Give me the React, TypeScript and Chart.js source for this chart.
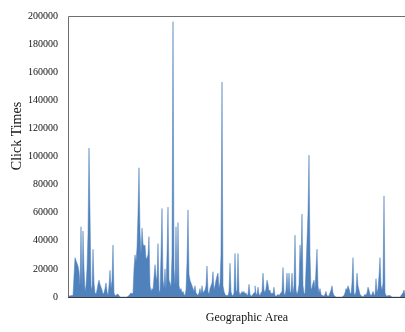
import React, { useEffect, useRef } from "react";
import { Chart, registerables } from "chart.js";

Chart.register(...registerables);

const clickTimes: number[] = [
  1000, 1000, 500, 1000, 1000, 1000, 15000, 28000, 26000, 24000,
  22000, 18000, 8000, 50000, 6000, 47000, 20000, 4000, 8000, 20000,
  45000, 106000, 60000, 8000, 5000, 34000, 10000, 3000, 2000, 5000,
  9000, 12000, 9000, 7000, 5000, 2000, 3000, 6000, 10000, 4000,
  1000, 8000, 19000, 6000, 12000, 37000, 3000, 1000, 1000, 2000,
  2000, 1000, 0, 0, 0, 0, 0, 0, 0, 0,
  500, 1000, 2000, 3000, 2000, 3000, 20000, 30000, 25000, 35000,
  60000, 92000, 47000, 30000, 49000, 38000, 36000, 37000, 27000, 28000,
  30000, 43000, 8000, 4000, 6000, 5000, 14000, 23000, 15000, 12000,
  38000, 5000, 3000, 30000, 63000, 12000, 6000, 20000, 5000, 30000,
  64000, 12000, 10000, 7000, 30000, 196000, 20000, 8000, 50000, 7000,
  53000, 8000, 5000, 6000, 3000, 4000, 2000, 1000, 5000, 25000,
  62000, 16000, 12000, 10000, 8000, 6000, 4000, 8000, 3000, 2000,
  1000, 3000, 6000, 2000, 8000, 3000, 4000, 5000, 8000, 22000,
  4000, 2000, 6000, 8000, 10000, 18000, 5000, 8000, 12000, 15000,
  17000, 6000, 10000, 30000, 153000, 8000, 4000, 2000, 1000, 1000,
  1000, 4000, 24000, 4000, 1000, 1000, 3000, 31000, 5000, 3000,
  31000, 4000, 1000, 3000, 4000, 3000, 4000, 2000, 3000, 1000,
  2000, 9000, 2000, 500, 1000, 2000, 3000, 8000, 2000, 2000,
  7000, 2000, 1000, 3000, 4000, 17000, 5000, 3000, 6000, 12000,
  9000, 4000, 5000, 2000, 3000, 2000, 7000, 1000, 500, 1000,
  2000, 1000, 2000, 3000, 4000, 21000, 3000, 1000, 5000, 17000,
  3000, 17000, 3000, 4000, 17000, 2000, 8000, 44000, 5000, 2000,
  4000, 9000, 37000, 25000, 59000, 8000, 3000, 2000, 20000, 40000,
  60000, 101000, 30000, 5000, 7000, 10000, 12000, 6000, 20000, 34000,
  8000, 3000, 6000, 2000, 1000, 1000, 500, 2000, 4000, 1000,
  500, 1000, 3000, 5000, 8000, 3000, 1000, 500, 0, 0,
  0, 0, 0, 0, 0, 500, 1000, 3000, 6000, 5000,
  8000, 6000, 3000, 2000, 10000, 28000, 3000, 1000, 4000, 17000,
  8000, 5000, 2000, 1000, 500, 0, 1000, 2000, 1000, 3000,
  7000, 5000, 2000, 1000, 2000, 4000, 2000, 1000, 13000, 3000,
  6000, 15000, 28000, 8000, 5000, 10000, 72000, 3000, 1000, 500,
  1000, 1000, 1000, 500, 0, 0, 0, 0, 0, 0,
  0, 0, 0, 1000, 2000, 3000, 5000, 2000,
];

const areaLabels: string[] = clickTimes.map((_, i) => `Area ${i + 1}`);
const yTickValues: number[] = [0, 20000, 40000, 60000, 80000, 100000, 120000, 140000, 160000, 180000, 200000];
const yTitle = "Click Times";
const xTitle = "Geographic Area";

const framePlugin = {
  id: "frameAndTitles",
  afterDraw(chart: any) {
    const { ctx, chartArea } = chart;
    const { left, right, top, bottom } = chartArea;
    ctx.save();
    ctx.lineWidth = 1;
    ctx.strokeStyle = "#6e6e6e";
    ctx.beginPath();
    ctx.moveTo(Math.round(left) + 0.5, Math.round(bottom));
    ctx.lineTo(Math.round(left) + 0.5, Math.round(top) + 0.5);
    ctx.lineTo(right, Math.round(top) + 0.5);
    ctx.stroke();
    ctx.strokeStyle = "#3a3a3a";
    ctx.beginPath();
    ctx.moveTo(left, Math.round(bottom) + 0.5);
    ctx.lineTo(right, Math.round(bottom) + 0.5);
    ctx.stroke();

    ctx.fillStyle = "#111";
    ctx.textAlign = "center";
    ctx.textBaseline = "middle";
    ctx.font = "12px 'Liberation Serif', serif";
    ctx.fillText(xTitle, 247, 318);
    ctx.translate(17, 136);
    ctx.rotate(-Math.PI / 2);
    ctx.font = "14px 'Liberation Serif', serif";
    ctx.fillText(yTitle, 0, 0);
    ctx.restore();
  },
};

export default function App() {
  const ref = useRef<HTMLCanvasElement | null>(null);
  useEffect(() => {
    if (!ref.current) return;
    const chart = new Chart(ref.current, {
      type: "line",
      data: {
        labels: areaLabels,
        datasets: [
          {
            data: clickTimes,
            fill: "origin",
            backgroundColor: "rgb(79,129,189)",
            borderColor: "rgb(79,129,189)",
            borderWidth: 0.5,
            pointRadius: 0,
            tension: 0,
          },
        ],
      },
      options: {
        animation: false,
        responsive: false,
        devicePixelRatio: 1,
        layout: { padding: { top: 9.5, right: 0, left: 0, bottom: 0 } },
        plugins: { legend: { display: false }, tooltip: { enabled: false } },
        scales: {
          x: {
            type: "category",
            offset: false,
            grid: { display: false, drawTicks: false },
            border: { display: false },
            ticks: { display: false },
            afterFit: (scale: any) => {
              scale.height = 35;
            },
          },
          y: {
            min: 0,
            max: 200000,
            grid: { display: false, drawTicks: false },
            border: { display: false },
            afterBuildTicks: (scale: any) => {
              scale.ticks = yTickValues.map((v) => ({ value: v }));
            },
            ticks: {
              color: "#111",
              padding: 10,
              font: { family: "'Liberation Serif', serif", size: 10 },
              callback: (v: any) => String(v),
            },
            afterFit: (scale: any) => {
              scale.width = 68;
            },
          },
        },
      },
      plugins: [framePlugin],
    });
    return () => chart.destroy();
  }, []);
  return (
    <div style={{ position: "fixed", left: 0, top: 0, width: 405, height: 332, background: "#fff" }}>
      <canvas ref={ref} width={405} height={332} style={{ width: 405, height: 332 }} />
    </div>
  );
}
